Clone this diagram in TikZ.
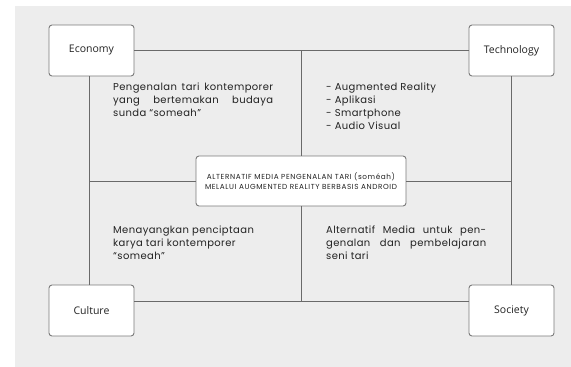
\documentclass[tikz,border=0pt]{standalone}
\usepackage{fontspec}
\setmainfont{Poppins}[LetterSpace=4]
\newfontfamily\labelfont{Open Sans}
\newfontfamily\ctrfont{Poppins}[LetterSpace=8]
\definecolor{bgc}{HTML}{EDEDED}
\definecolor{linec}{HTML}{6A6A6A}
\definecolor{boxc}{HTML}{7A7A7A}
\definecolor{txt}{HTML}{222222}
\newcommand{\jline}[1]{\hbox to 160pt{#1}}
\begin{document}
\begin{tikzpicture}[x=1pt,y=-1pt,
  corner/.style={draw=boxc,line width=0.9pt,fill=white,rounded corners=3pt,
    minimum width=85pt,minimum height=51pt,inner sep=0pt,
    font=\labelfont\fontsize{10.5}{12}\selectfont,text=txt},
  link/.style={draw=linec,line width=0.9pt},
  para/.style={anchor=north west,inner sep=0pt,text=txt,
    font=\fontsize{10}{13}\selectfont,align=left}]
\useasboundingbox (0,0) rectangle (571,367);
\fill[bgc] (15,6) rectangle (571,367);
% corner boxes
\node[corner] (econ) at (91.5,50.5) {Economy};
\node[corner] (tech) at (511.5,50.5) {Technology};
\node[corner] (cult) at (91.5,310.5) {Culture};
\node[corner] (soc) at (511.5,310.5) {Society};
% junction coordinates
\coordinate (tm) at (301,50.5);
\coordinate (bm) at (301,301);
\coordinate (lm) at (89,181);
\coordinate (rm) at (511.5,181);
\coordinate (ls) at (89,76);
\coordinate (le) at (89,285);
\coordinate (cb) at (134,301);
\coordinate (sb) at (469,301);
% outer frame lines
\draw[link] (econ.east) -- (tech.west);
\draw[link] (cb) -- (sb);
\draw[link] (ls) -- (le);
\draw[link] (tech.south) -- (soc.north);
% centre box
\node[draw=boxc,line width=0.9pt,fill=white,rounded corners=3pt,
  minimum width=210pt,minimum height=50pt,inner sep=0pt,align=center,
  font=\ctrfont\fontsize{7.3}{9.3}\selectfont,text=txt] (ctr) at (301,181)
  {ALTERNATIF MEDIA PENGENALAN TARI (soméah)\\MELALUI AUGMENTED REALITY BERBASIS ANDROID};
\draw[link] (ctr.north) -- (tm);
\draw[link] (ctr.south) -- (bm);
\draw[link] (ctr.west) -- (lm);
\draw[link] (ctr.east) -- (rm);
% texts
\node[para] (t1) at (113,83) {\jline{Pengenalan\hfill tari\hfill kontemporer}\\\jline{yang\hfill bertemakan\hfill budaya}\\sunda “someah”};
\node[para] (t2) at (326,83) {- Augmented Reality\\- Aplikasi\\- Smartphone\\- Audio Visual};
\node[para] (t3) at (113,226) {Menayangkan penciptaan\\karya tari kontemporer\\“someah”};
\node[para] (t4) at (326,226) {\jline{Alternatif\hfill Media\hfill untuk\hfill pen-}\\\jline{genalan\hfill dan\hfill pembelajaran}\\seni tari};
\end{tikzpicture}
\end{document}
